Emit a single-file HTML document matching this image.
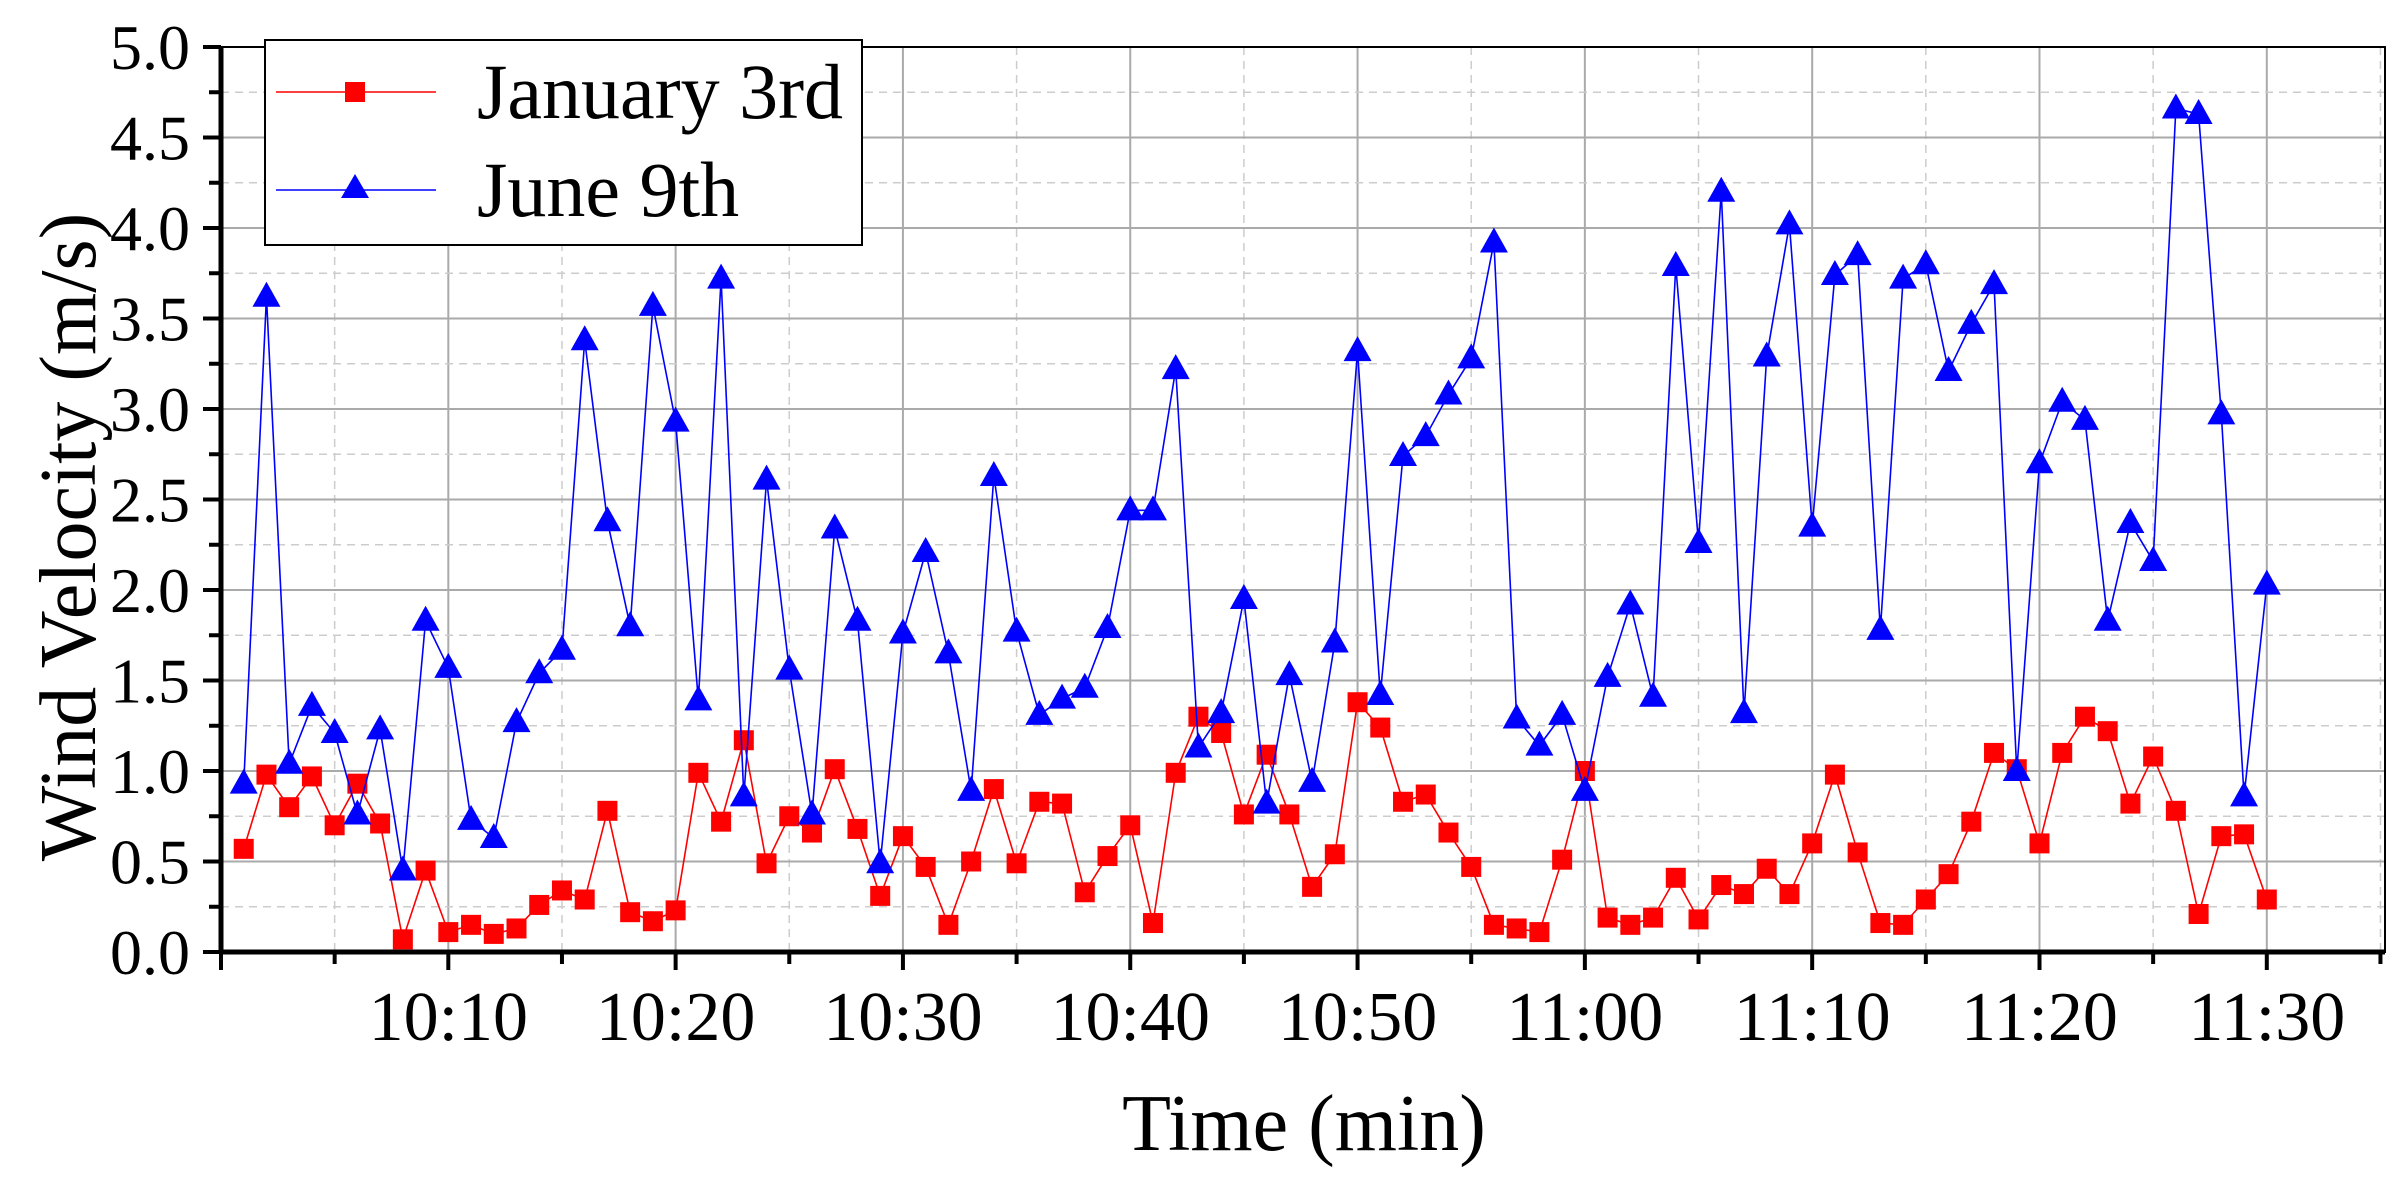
<!DOCTYPE html>
<html><head><meta charset="utf-8"><style>
body{margin:0;background:#fff}
svg{display:block;font-family:"Liberation Serif",serif}
</style></head><body>
<svg id="chart" width="2396" height="1188" xmlns="http://www.w3.org/2000/svg">
<g id="grid"></g>
<g id="series"></g>
<g id="axes"></g>
<text transform="translate(95,537) rotate(-90)" text-anchor="middle" font-size="80">Wind Velocity (m/s)</text>
<text x="1304" y="1150" text-anchor="middle" font-size="80">Time (min)</text>
<g>
<rect x="265" y="40" width="597" height="205" fill="#fff" stroke="#000" stroke-width="2"/>
<g>
<line x1="276" y1="92" x2="436" y2="92" stroke="#ff0000" stroke-width="1.5"/>
<rect x="345" y="82" width="20" height="20" fill="#ff0000"/>
<text x="477" y="118" font-size="78">January 3rd</text></g>
<g>
<line x1="276" y1="190" x2="436" y2="190" stroke="#0000ff" stroke-width="1.5"/>
<polygon points="355,174 341,198 369,198" fill="#0000ff"/>
<text x="477" y="216" font-size="78">June 9th</text></g>
</g>
</svg>
<script>
const minutes = [];
for (let i = 1; i <= 90; i++) minutes.push(i);
const january = [0.57,0.98,0.80,0.97,0.70,0.93,0.71,0.07,0.45,0.11,0.15,0.10,0.13,0.26,0.34,0.29,0.78,0.22,0.17,0.23,0.99,0.72,1.17,0.49,0.75,0.66,1.01,0.68,0.31,0.64,0.47,0.15,0.50,0.90,0.49,0.83,0.82,0.33,0.53,0.70,0.16,0.99,1.30,1.21,0.76,1.09,0.76,0.36,0.54,1.38,1.24,0.83,0.87,0.66,0.47,0.15,0.13,0.11,0.51,1.00,0.19,0.15,0.19,0.41,0.18,0.37,0.32,0.46,0.32,0.60,0.98,0.55,0.16,0.15,0.29,0.43,0.72,1.10,1.01,0.60,1.10,1.30,1.22,0.82,1.08,0.78,0.21,0.64,0.65,0.29];
const june = [0.93,3.62,1.04,1.36,1.21,0.76,1.23,0.45,1.83,1.57,0.73,0.63,1.27,1.54,1.67,3.38,2.38,1.80,3.57,2.93,1.39,3.72,0.86,2.61,1.56,0.76,2.34,1.83,0.49,1.76,2.21,1.65,0.89,2.63,1.77,1.31,1.40,1.46,1.79,2.44,2.44,3.22,1.13,1.32,1.95,0.82,1.53,0.94,1.71,3.32,1.42,2.74,2.85,3.08,3.28,3.92,1.29,1.14,1.31,0.89,1.52,1.92,1.41,3.79,2.26,4.20,1.32,3.29,4.02,2.35,3.74,3.85,1.78,3.72,3.80,3.21,3.47,3.69,1.00,2.70,3.04,2.94,1.83,2.37,2.16,4.66,4.63,2.97,0.86,2.03];
const xTickMinutes = [10,20,30,40,50,60,70,80,90];
const xTickLabels = ["10:10","10:20","10:30","10:40","10:50","11:00","11:10","11:20","11:30"];
const yTicks = [0,0.5,1,1.5,2,2.5,3,3.5,4,4.5,5];
const yTickLabels = ["0.0","0.5","1.0","1.5","2.0","2.5","3.0","3.5","4.0","4.5","5.0"];

const L=221,R=2385,T=47,B=952,XMAX=95.2,YMAX=5;
const sx=m=>L+(R-L)*m/XMAX;
const sy=v=>B-(B-T)*v/YMAX;
const NS="http://www.w3.org/2000/svg";
function mk(tag,attrs,parent){const e=document.createElementNS(NS,tag);for(const k in attrs)e.setAttribute(k,attrs[k]);parent.appendChild(e);return e;}
const grid=document.getElementById('grid'),axes=document.getElementById('axes'),series=document.getElementById('series');

for(let m=5;m<XMAX;m+=5){
  const major=m%10===0;
  const g=mk('line',{x1:sx(m),x2:sx(m),y1:T,y2:B,stroke:major?'#aaa':'#ccc','stroke-width':major?2:1.5,'stroke-dasharray':major?'none':'8 6'},grid);
  
  
}
for(let v=0.25;v<YMAX;v+=0.25){
  const major=Math.abs(v*2-Math.round(v*2))<1e-6;
  const g=mk('line',{x1:L,x2:R,y1:sy(v),y2:sy(v),stroke:major?'#aaa':'#ccc','stroke-width':major?2:1.5,'stroke-dasharray':major?'none':'8 6'},grid);
  
  
}

const fr=mk('rect',{x:L,y:T,width:R-L,height:B-T,fill:'none',stroke:'#000','stroke-width':2},axes);


mk('line',{x1:L,x2:R,y1:B,y2:B,stroke:'#000','stroke-width':5},axes);
mk('line',{x1:L,x2:L,y1:T,y2:B,stroke:'#000','stroke-width':5},axes);
for(let m=0;m<XMAX;m+=5){
  const major=m%10===0;
  mk('line',{x1:sx(m),x2:sx(m),y1:B,y2:B+(major?18:12),stroke:'#000','stroke-width':4},axes);
}
for(let v=0;v<=YMAX+1e-6;v+=0.25){
  const major=Math.abs(v*2-Math.round(v*2))<1e-6;
  mk('line',{x1:L-(major?18:12),x2:L,y1:sy(v),y2:sy(v),stroke:'#000','stroke-width':4},axes);
}
xTickMinutes.forEach((m,i)=>{
  const t=mk('text',{x:sx(m),y:1040,'text-anchor':'middle','font-size':70},axes);
  t.textContent=xTickLabels[i];
  
  
});
yTicks.forEach((v,i)=>{
  const t=mk('text',{x:190,y:sy(v)+22,'text-anchor':'end','font-size':64},axes);
  t.textContent=yTickLabels[i];
  
  
});

function drawSeries(vals,color,shape,name){
  const pts=vals.map((v,i)=>sx(minutes[i])+','+sy(v)).join(' ');
  const pl=mk('polyline',{points:pts,fill:'none',stroke:color,'stroke-width':1.6},series);
  
  
  vals.forEach((v,i)=>{
    const x=sx(minutes[i]),y=sy(v);
    let e;
    if(shape==='square') e=mk('rect',{x:x-10,y:y-10,width:20,height:20,fill:color},series);
    else e=mk('polygon',{points:`${x},${y-15} ${x-14},${y+10} ${x+14},${y+10}`,fill:color},series);
    
    
  });
}
drawSeries(january,'#ff0000','square','january');
drawSeries(june,'#0000ff','triangle','june');
</script>
</body></html>
